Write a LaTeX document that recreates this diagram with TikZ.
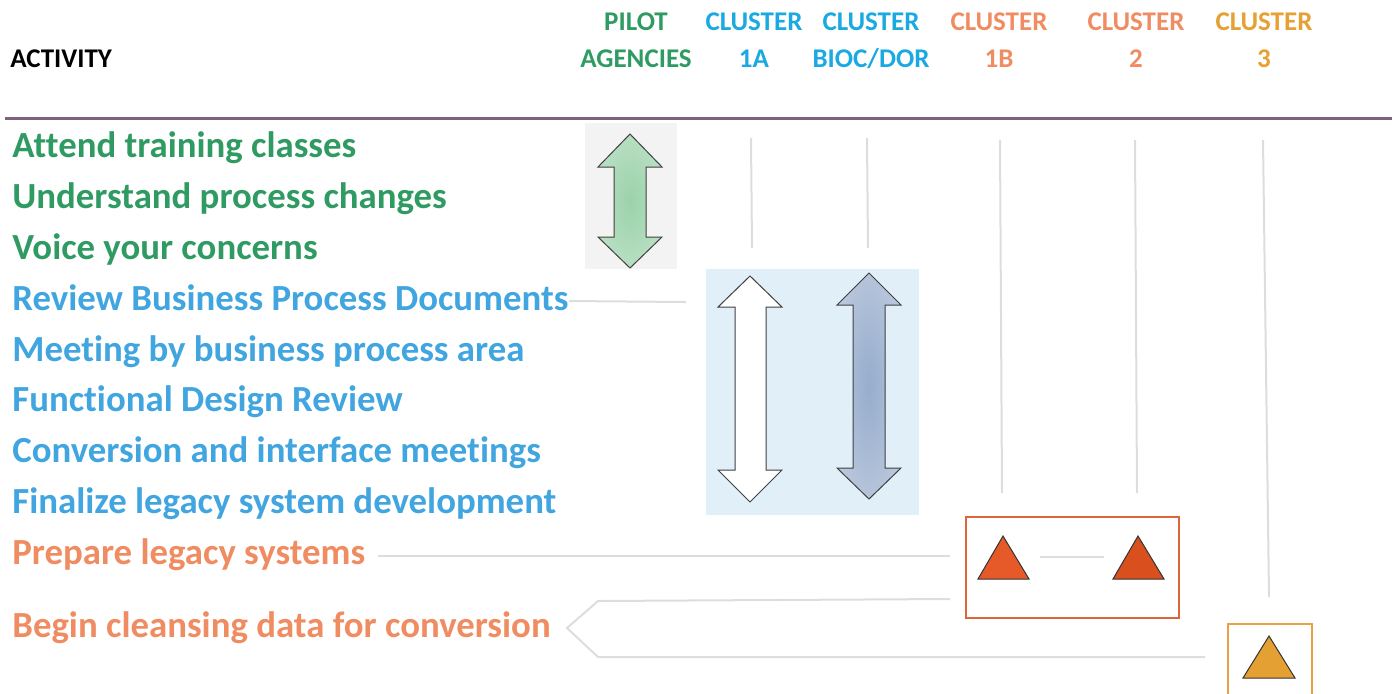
\documentclass[tikz,border=0pt]{standalone}
\usepackage{fontspec}
\setmainfont{Carlito}[Ligatures=NoCommon]
\definecolor{tgreen}{HTML}{2F9B63}
\definecolor{tblue}{HTML}{41A5E0}
\definecolor{hblue}{HTML}{1AA9E1}
\definecolor{torange}{HTML}{F08C62}
\definecolor{tyellow}{HTML}{E6A033}
\definecolor{rulepurple}{HTML}{7D6280}
\definecolor{linegrey}{HTML}{DDDDDD}
\definecolor{boxorange}{HTML}{E0643A}
\definecolor{boxyellow}{HTML}{E8A145}
\definecolor{tri1}{HTML}{E55A28}
\definecolor{tri2}{HTML}{D9501E}
\definecolor{tri3}{HTML}{E5A033}
\definecolor{bluebg}{HTML}{E1EFF9}
\definecolor{greybg}{HTML}{F3F3F3}
\definecolor{ginner}{HTML}{9BD2AA}
\definecolor{gouter}{HTML}{D6ECDC}
\definecolor{binner}{HTML}{96ADCE}
\definecolor{bouter}{HTML}{D6DCE6}
\pgfdeclareradialshading{greenglow}{\pgfpoint{0bp}{0bp}}{color(0bp)=(ginner); color(8bp)=(ginner!85!gouter); color(50bp)=(gouter); color(100bp)=(gouter)}
\pgfdeclareradialshading{blueglow}{\pgfpoint{0bp}{0bp}}{color(0bp)=(binner); color(8bp)=(binner!85!bouter); color(50bp)=(bouter); color(100bp)=(bouter)}
\begin{document}
\begin{tikzpicture}[x=0.5pt,y=-0.5pt,
  hdr/.style={font=\bfseries\fontsize{13.5}{15}\selectfont,inner sep=0pt,anchor=base},
  act/.style={font=\bfseries\fontsize{18.4}{20}\selectfont,inner sep=0pt,anchor=base west},
  gline/.style={draw=linegrey,line width=1pt},
  arrowshape/.style={draw=black!75,line width=0.5pt}]
\useasboundingbox (0,0) rectangle (1398,693);
% header
\node[hdr,anchor=base west] (activity) at (10,67) {ACTIVITY};
\node[hdr,text=tgreen] (h1a) at (636,30) {PILOT};
\node[hdr,text=tgreen] (h1b) at (636,67) {AGENCIES};
\node[hdr,text=hblue] (h2a) at (754,30) {CLUSTER};
\node[hdr,text=hblue] (h2b) at (754,67) {1A};
\node[hdr,text=hblue] (h3a) at (871,30) {CLUSTER};
\node[hdr,text=hblue] (h3b) at (871,67) {BIOC/DOR};
\node[hdr,text=torange] (h4a) at (999,30) {CLUSTER};
\node[hdr,text=torange] (h4b) at (999,67) {1B};
\node[hdr,text=torange] (h5a) at (1136,30) {CLUSTER};
\node[hdr,text=torange] (h5b) at (1136,67) {2};
\node[hdr,text=tyellow] (h6a) at (1264,30) {CLUSTER};
\node[hdr,text=tyellow] (h6b) at (1264,67) {3};
\coordinate (ruleL) at (5,118);
\coordinate (ruleR) at (1392,118);
\draw[rulepurple,line width=1.5pt] (ruleL) -- (ruleR);
% activities
\node[act,text=tgreen] (a1) at (12,157) {Attend training classes};
\node[act,text=tgreen] (a2) at (12,208) {Understand process changes};
\node[act,text=tgreen] (a3) at (12,259) {Voice your concerns};
\node[act,text=tblue] (a4) at (12,310) {Review Business Process Documents};
\node[act,text=tblue] (a5) at (12,361) {Meeting by business process area};
\node[act,text=tblue] (a6) at (12,411) {Functional Design Review};
\node[act,text=tblue] (a7) at (12,462) {Conversion and interface meetings};
\node[act,text=tblue] (a8) at (12,513) {Finalize legacy system development};
\node[act,text=torange] (a9) at (12,564) {Prepare legacy systems};
\node[act,text=torange] (a10) at (12,637) {Begin cleansing data for conversion};
% background boxes
\fill[greybg] (585,123) rectangle (677,269);
\fill[bluebg] (706,269) rectangle (919,515);
% green double arrow
\shade[arrowshape,shading=greenglow]
  (630,134) -- (662,167) -- (646,167) -- (646,237) -- (662,237) -- (630,268)
  -- (598,237) -- (614,237) -- (614,167) -- (598,167) -- cycle;
% white double arrow
\filldraw[arrowshape,fill=white]
  (750,276) -- (782,307) -- (766,307) -- (766,470) -- (782,470) -- (750,502)
  -- (718,470) -- (735,470) -- (735,307) -- (718,307) -- cycle;
% blue-grey double arrow
\shade[arrowshape,shading=blueglow]
  (869,273) -- (901,305) -- (885,305) -- (885,468) -- (901,468) -- (869,499)
  -- (837,468) -- (853,468) -- (853,305) -- (837,305) -- cycle;
% grey column lines
\coordinate (c1t) at (751,138); \coordinate (c1b) at (752,248);
\coordinate (c2t) at (867,138); \coordinate (c2b) at (868,248);
\coordinate (c3t) at (1000,140); \coordinate (c3b) at (1002,493);
\coordinate (c4t) at (1135,140); \coordinate (c4b) at (1137,493);
\coordinate (c5t) at (1263,140); \coordinate (c5b) at (1269,597);
\draw[gline] (c1t) -- (c1b);
\draw[gline] (c2t) -- (c2b);
\draw[gline] (c3t) -- (c3b);
\draw[gline] (c4t) -- (c4b);
\draw[gline] (c5t) -- (c5b);
% line from documents
\coordinate (d4s) at (569,301);
\coordinate (d4e) at (686,302);
\draw[gline] (d4s) -- (d4e);
% orange box
\node[draw=boxorange,line width=1.1pt,minimum width=106.5pt,minimum height=50.5pt,inner sep=0pt,anchor=north west] (obox) at (965,516) {};
\fill[tri1,draw=black!80,line width=0.5pt] (1003,536) -- (1029,579) -- (978,579) -- cycle;
\fill[tri2,draw=black!80,line width=0.5pt] (1138,536) -- (1164,579) -- (1113,579) -- cycle;
\coordinate (m1) at (1040,557); \coordinate (m2) at (1104,557);
\draw[gline] (m1) -- (m2);
% line from prepare
\coordinate (p9s) at (378,556);
\coordinate (p9e) at (950,556);
\draw[gline] (p9s) -- (p9e);
% chevron outline for begin cleansing
\coordinate (k1) at (950,599);
\coordinate (k2) at (598,601);
\coordinate (k3) at (567,628);
\coordinate (k4) at (598,657);
\coordinate (k5) at (1205,657);
\draw[gline] (k1) -- (k2) -- (k3) -- (k4) -- (k5);
% yellow box
\draw[boxyellow,line width=1.3pt] (1228,700) -- (1228,624) -- (1312,624) -- (1312,700);
\fill[tri3,draw=black!80,line width=0.5pt] (1269,636) -- (1295,678) -- (1243,678) -- cycle;
\end{tikzpicture}
\end{document}
